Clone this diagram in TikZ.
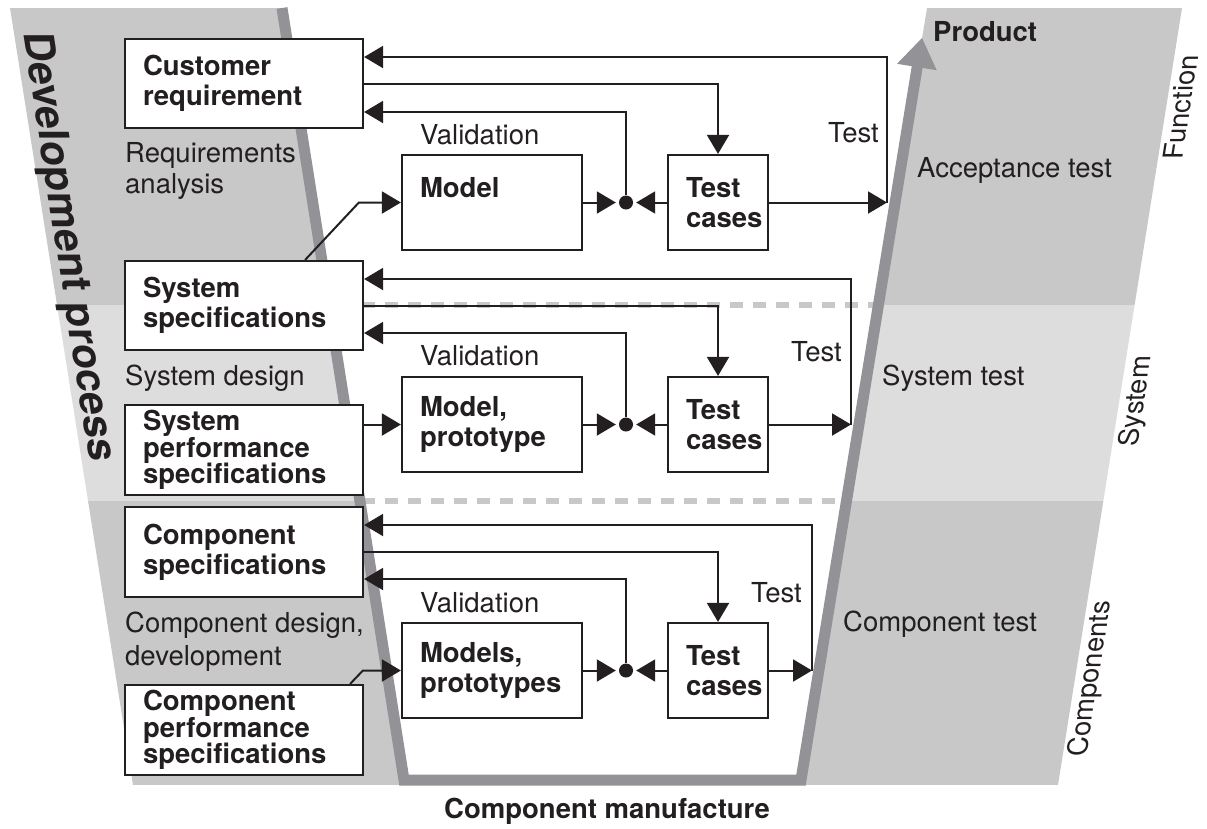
\documentclass[tikz,border=0pt]{standalone}
\usepackage{fontspec}
\setmainfont{TeX Gyre Heros}
\usetikzlibrary{arrows.meta,calc}
\definecolor{bandA}{RGB}{200,200,200}
\definecolor{bandB}{RGB}{221,221,221}
\definecolor{vline}{RGB}{146,146,151}
\definecolor{ink}{RGB}{35,31,32}
\begin{document}
\begin{tikzpicture}[x=1pt,y=-1pt,
  box/.style={draw=ink, line width=2.2pt, fill=white, inner xsep=18pt, inner ysep=0pt,
    align=left, text=ink, font=\bfseries\fontsize{27.5}{30}\selectfont},
  lbox/.style={box, minimum width=238pt, minimum height=89pt, text width=202pt},
  lboxiii/.style={lbox, minimum height=90pt, font=\bfseries\fontsize{27.5}{26.5}\selectfont},
  mbox/.style={box, minimum width=180pt, minimum height=95pt, text width=144pt},
  tbox/.style={box, minimum width=100pt, minimum height=95pt, text width=64pt},
  lbl/.style={inner sep=0pt, text=ink, align=left, font=\fontsize{27.5}{31}\selectfont},
  blbl/.style={lbl, font=\bfseries\fontsize{27.5}{31}\selectfont},
  side/.style={transform shape, anchor=base west, inner sep=0pt, text=ink, font=\fontsize{27.5}{31}\selectfont},
  conn/.style={draw=ink, line width=2pt},
  arr/.style={conn, -{Triangle[length=19pt,width=22pt]}},
  dot/.style={circle, fill=ink, inner sep=0pt, minimum size=14pt},
  dashsep/.style={draw=bandA, line width=6pt, dash pattern=on 13pt off 10pt}
]
\useasboundingbox (0,0) rectangle (1207,828);

% left band: requirements / design side
\begin{scope}
  \clip (10,8) -- (282,8) -- (404.8,785) -- (133,785) -- cycle;
  \fill[bandA] (0,0) rectangle (1207,305);
  \fill[bandB] (0,305) rectangle (1207,501);
  \fill[bandA] (0,501) rectangle (1207,785);
\end{scope}
% right band: test side
\begin{scope}
  \clip (927,8) -- (1182,8) -- (1058,785) -- (800,785) -- cycle;
  \fill[bandA] (0,0) rectangle (1207,305);
  \fill[bandB] (0,305) rectangle (1207,501);
  \fill[bandA] (0,501) rectangle (1207,785);
\end{scope}

% level separators
\draw[dashsep] (362,305) -- (876,305);
\draw[dashsep] (362,501) -- (845,501);

% the V of the development process
\draw[vline, line width=11pt, line join=miter] (282,8) -- (404,780) -- (801,780) -- (918,62);
\fill[vline] (922,38) -- (897,63.8) -- (936.7,70.2) -- cycle;

% specification boxes
\node[lbox] (cr) at (244,83.5) {Customer\\requirement};
\node[lbox] (ss) at (244,305.5) {System\\specifications};
\node[lboxiii] (sp) at (244,450) {System\\performance\\specifications};
\node[lbox, minimum height=90pt] (cs) at (244,552) {Component\\specifications};
\node[lboxiii] (cp) at (244,730) {Component\\performance\\specifications};

% models and test cases
\node[mbox] (m1) at (492,202.5) {Model\\\phantom{cases}};
\node[tbox] (t1) at (718,202.5) {Test\\cases};
\node[mbox] (m2) at (492,424.5) {Model,\\prototype};
\node[tbox] (t2) at (718,424.5) {Test\\cases};
\node[mbox] (m3) at (492,670.5) {Models,\\prototypes};
\node[tbox] (t3) at (718,670.5) {Test\\cases};

% validation junctions
\node[dot] (d1) at (626,202.5) {};
\node[dot] (d2) at (626,424.5) {};
\node[dot] (d3) at (626,670.5) {};

% test points on the V
\coordinate (v1) at (887,202.5);
\coordinate (v2) at (851,424.5);
\coordinate (v3) at (812,670.5);

% level 1
\draw[arr] (v1) |- ([yshift=26.5pt]cr.east);
\draw[arr] (cr.east) -| (t1.north);
\draw[arr] (d1) |- ([yshift=-28.5pt]cr.east);
\draw[arr, shorten >=3pt] (m1.east) -- (d1);
\draw[arr, shorten >=3pt] (t1.west) -- (d1);
\draw[arr] (t1.east) -- (v1);
\draw[arr] ([xshift=-59pt]ss.north east) -- ([xshift=-42pt]m1.west) -- (m1.west);

% level 2
\draw[arr] (v2) |- ([yshift=26.5pt]ss.east);
\draw[arr] (ss.east) -| (t2.north);
\draw[arr] (d2) |- ([yshift=-27.5pt]ss.east);
\draw[arr, shorten >=3pt] (m2.east) -- (d2);
\draw[arr, shorten >=3pt] (t2.west) -- (d2);
\draw[arr] (t2.east) -- (v2);
\draw[arr] (sp.east |- m2.west) -- (m2.west);

% level 3
\draw[arr] (v3) |- ([yshift=27pt]cs.east);
\draw[arr] (cs.east) -| (t3.north);
\draw[arr] (d3) |- ([yshift=-27pt]cs.east);
\draw[arr, shorten >=3pt] (m3.east) -- (d3);
\draw[arr, shorten >=3pt] (t3.west) -- (d3);
\draw[arr] (t3.east) -- (v3);
\draw[arr] ([xshift=-14pt]cp.north east) -- ([xshift=-38pt]m3.west) -- (m3.west);

% phase labels
\node[lbl, anchor=north west] (ra) at (125,142.3) {Requirements\\analysis};
\node[lbl, anchor=base west] (sd) at (125,385) {System design};
\node[lbl, anchor=north west, font=\fontsize{27.5}{33}\selectfont] (cdd) at (125,611.3) {Component design,\\development};

\node[lbl, anchor=base west] (va1) at (420,144) {Validation};
\node[lbl, anchor=base west] (va2) at (420,365) {Validation};
\node[lbl, anchor=base west] (va3) at (420,612) {Validation};

\node[lbl, anchor=base east] (te1) at (879,142) {Test};
\node[lbl, anchor=base east] (te2) at (842,361) {Test};
\node[lbl, anchor=base east] (te3) at (802,602) {Test};

\node[lbl, anchor=base west] (at) at (917,177) {Acceptance test};
\node[lbl, anchor=base west] (st) at (882,385) {System test};
\node[lbl, anchor=base west] (ct) at (843,631) {Component test};

\node[blbl, anchor=base west] (prod) at (933,41) {Product};
\node[blbl, anchor=base] (manu) at (607,818) {Component manufacture};

% slanted labels along the band edges
\begin{scope}[shift={(23,32)}]
  \node[side, cm={0.155,-1,1,0,(0,0)}, font=\bfseries\fontsize{41.5}{45}\selectfont] (dev) at (0,0) {Development process};
\end{scope}
\begin{scope}[shift={(1182,160)}]
  \node[side, cm={0.16,1,-1,0,(0,0)}] (fn) at (0,0) {Function};
\end{scope}
\begin{scope}[shift={(1137,447)}]
  \node[side, cm={0.16,1,-1,0,(0,0)}] (sy) at (0,0) {System};
\end{scope}
\begin{scope}[shift={(1086,757)}]
  \node[side, cm={0.16,1,-1,0,(0,0)}] (co) at (0,0) {Components};
\end{scope}
\end{tikzpicture}
\end{document}
